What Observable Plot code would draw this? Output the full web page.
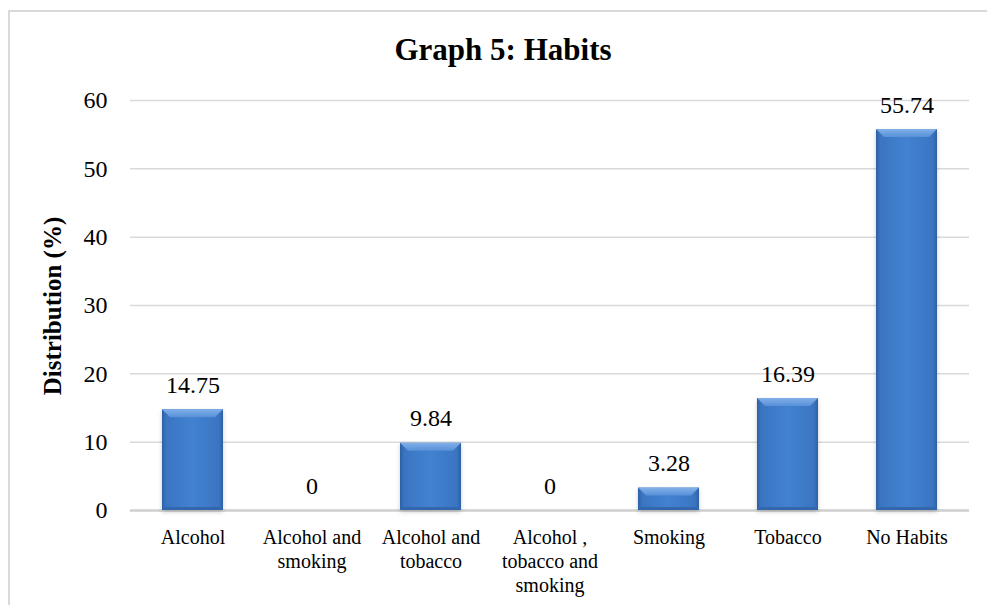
<!DOCTYPE html>
<html>
<head>
<meta charset="utf-8">
<script src="https://cdn.jsdelivr.net/npm/d3@7"></script>
<script src="https://cdn.jsdelivr.net/npm/@observablehq/plot@0.6"></script>
<style>
  html, body { margin: 0; padding: 0; background: #fff; overflow: hidden; }
  #wrap { position: relative; width: 987px; height: 605px; }
  #frame {
    position: absolute; left: 8px; top: 10px; right: -10px; bottom: -10px;
    border-left: 2px solid #d9d9d9; border-top: 2px solid #d9d9d9;
    pointer-events: none;
  }
  #wrap svg { position: absolute; left: 0; top: 0; }
  #wrap svg, #wrap svg text { font-family: 'Liberation Serif', 'Times New Roman', Times, serif; }
</style>
</head>
<body>
<div id="wrap"><div id="frame"></div></div>
<script>
// Habit categories, their axis labels (with line breaks) and the share of each
const categories = [
  "Alcohol",
  "Alcohol and smoking",
  "Alcohol and tobacco",
  "Alcohol , tobacco and smoking",
  "Smoking",
  "Tobacco",
  "No Habits"
];
const tickLabels = [
  "Alcohol",
  "Alcohol and\nsmoking",
  "Alcohol and\ntobacco",
  "Alcohol ,\ntobacco and\nsmoking",
  "Smoking",
  "Tobacco",
  "No Habits"
];
const values = [14.75, 0, 9.84, 0, 3.28, 16.39, 55.74];
const yTicks = [0, 10, 20, 30, 40, 50, 60];

const data = categories.map((c, i) => ({category: c, value: values[i]}));
const labelOf = new Map(categories.map((c, i) => [c, tickLabels[i]]));

const serif = "'Liberation Serif', 'Times New Roman', Times, serif";

const svg = Plot.plot({
  width: 987,
  height: 605,
  marginTop: 100,
  marginBottom: 95,
  marginLeft: 130,
  marginRight: 18,
  style: {fontFamily: serif, fontSize: "24px", color: "#000", background: "transparent", overflow: "visible"},
  x: {domain: categories, paddingInner: 0.49, paddingOuter: 0.245},
  y: {domain: [0, 60]},
  marks: [
    Plot.gridY(yTicks, {stroke: "#d9d9d9", strokeOpacity: 1, strokeWidth: 1.5}),
    Plot.ruleY([0], {stroke: "#d0d0d0", strokeWidth: 2.5}),
    Plot.barY(data, {x: "category", y: "value", fill: "url(#barFill)"}),
    Plot.text(data, {
      x: "category", y: "value", text: d => String(d.value),
      lineAnchor: "bottom", dy: -17, fontSize: 24, fontFamily: serif, fill: "#000"
    }),
    Plot.axisY(yTicks, {tickSize: 0, tickPadding: 23, fontSize: 24, fontFamily: serif, label: null}),
    Plot.axisX({
      tickSize: 0, tickPadding: 16, fontSize: 20, fontFamily: serif, lineHeight: 1.2, label: null,
      tickFormat: c => labelOf.get(c)
    })
  ]
});

// Gradients for the bevelled bar look
const defs = d3.select(svg).insert("defs", ":first-child");
const bodyGrad = defs.append("linearGradient").attr("id", "barFill")
  .attr("x1", 0).attr("x2", 1).attr("y1", 0).attr("y2", 0);
[[0, "#2d60a4"], [0.07, "#3a75c2"], [0.5, "#4282d1"], [0.93, "#3a75c2"], [1, "#2d60a4"]]
  .forEach(([o, c]) => bodyGrad.append("stop").attr("offset", o).attr("stop-color", c));
const topGrad = defs.append("linearGradient").attr("id", "bevelTop")
  .attr("x1", 0).attr("x2", 0).attr("y1", 0).attr("y2", 1);
[[0, "#82b0e9"], [1, "#5790d8"]]
  .forEach(([o, c]) => topGrad.append("stop").attr("offset", o).attr("stop-color", c));
const shadowFilter = defs.append("filter").attr("id", "barShadow")
  .attr("x", "-20%").attr("y", "-20%").attr("width", "140%").attr("height", "140%");
shadowFilter.append("feDropShadow").attr("dx", 0).attr("dy", 2).attr("stdDeviation", 2)
  .attr("flood-color", "#000").attr("flood-opacity", 0.2);

// Add the top and bottom bevel faces on each drawn bar
d3.select(svg).selectAll('g[aria-label="bar"]').attr("filter", "url(#barShadow)");
d3.select(svg).selectAll('g[aria-label="bar"] rect').each(function () {
  const r = d3.select(this);
  const x = +r.attr("x"), y = +r.attr("y"), w = +r.attr("width"), h = +r.attr("height");
  if (!(h > 1)) return;
  const g = d3.select(this.parentNode);
  const b = Math.min(8, h / 2);
  const bb = Math.min(3, h / 4);
  g.append("polygon")
    .attr("points", [[x, y], [x + w, y], [x + w - b, y + b], [x + b, y + b]].join(" "))
    .attr("fill", "url(#bevelTop)");
  g.append("polygon")
    .attr("points", [[x, y + h], [x + w, y + h], [x + w - bb, y + h - bb], [x + bb, y + h - bb]].join(" "))
    .attr("fill", "#3066ad");
});

// Chart title and y-axis title
d3.select(svg).append("text")
  .attr("x", 503).attr("y", 60)
  .attr("text-anchor", "middle")
  .attr("font-family", serif).attr("font-size", 31).attr("font-weight", "bold")
  .attr("fill", "#000")
  .text("Graph 5: Habits");
d3.select(svg).append("text")
  .attr("transform", "translate(61,306) rotate(-90)")
  .attr("text-anchor", "middle")
  .attr("font-family", serif).attr("font-size", 25).attr("font-weight", "bold")
  .attr("fill", "#000")
  .text("Distribution (%)");

document.getElementById("wrap").appendChild(svg);
</script>
</body>
</html>
